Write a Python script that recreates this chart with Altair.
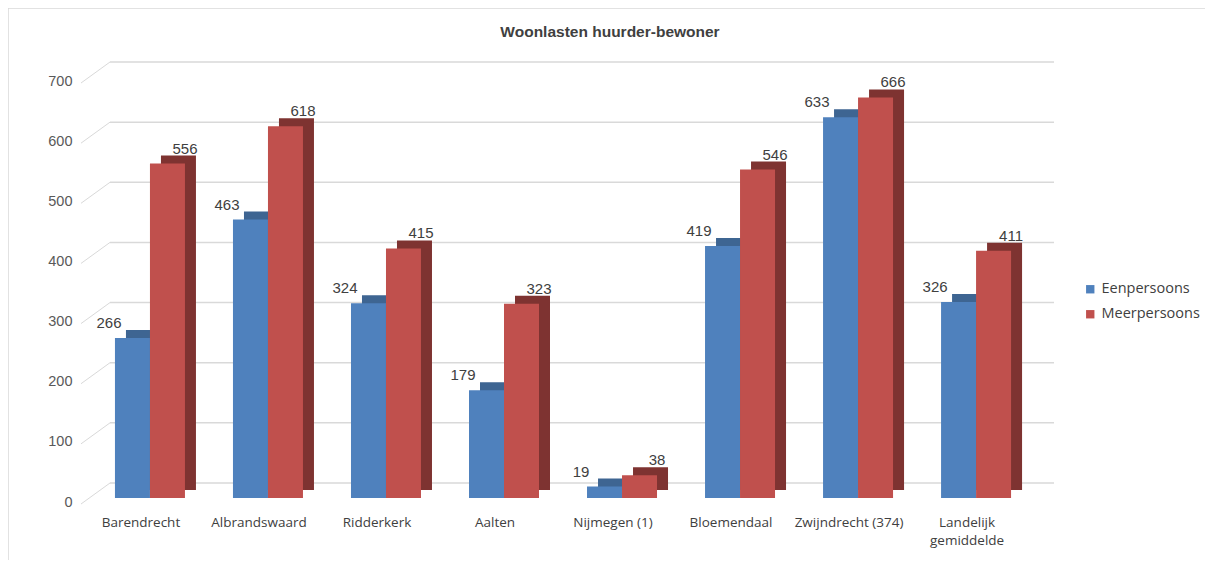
import altair as alt
import pandas as pd

categories = ["Barendrecht", "Albrandswaard", "Ridderkerk", "Aalten", "Nijmegen (1)",
              "Bloemendaal", "Zwijndrecht (374)", "Landelijk gemiddelde"]
eenpersoons = [266, 463, 324, 179, 19, 419, 633, 326]
meerpersoons = [556, 618, 415, 323, 38, 546, 666, 411]
series = ["Eenpersoons", "Meerpersoons"]
y_ticks = [0, 100, 200, 300, 400, 500, 600, 700]
title_text = "Woonlasten huurder-bewoner"

rows = []
for c, e, m in zip(categories, eenpersoons, meerpersoons):
    rows.append({"gemeente": c, "type": "Eenpersoons", "waarde": e})
    rows.append({"gemeente": c, "type": "Meerpersoons", "waarde": m})
df = pd.DataFrame(rows)
tick_df = pd.DataFrame({"tick": y_ticks})
one = pd.DataFrame({"k": [0]})

W, H = 944, 421
front = ["#4f81bd", "#c0504d"]
shade = ["#3e6592", "#7e3331"]

x_axis = alt.Axis(title=None, labelAngle=0, domain=False, ticks=False, grid=False,
                  labelPadding=17, labelOffset=-9, labelFont="Open Sans", labelFontSize=13.5,
                  labelColor="#404040", labelLineHeight=18, labelOverlap=False,
                  labelExpr="datum.value == 'Landelijk gemiddelde' ? ['Landelijk', 'gemiddelde'] : datum.label")
x_scale = alt.Scale(domain=categories, paddingInner=0.407, paddingOuter=0.203)
y_axis = alt.Axis(title=None, domain=False, ticks=False, grid=False, values=y_ticks,
                  labelPadding=19, labelOffset=4, labelFont="Liberation Sans", labelFontSize=14.5,
                  labelColor="#595959")
y_scale = alt.Scale(domain=[0, 700], nice=False, zero=True)

def X():
    return alt.X("gemeente:N", sort=categories, scale=x_scale, axis=x_axis)

# back wall grid lines
grid = alt.Chart(tick_df).mark_rule(color="#d9d9d9", strokeWidth=1.5, yOffset=-15).encode(
    x=alt.value(19), x2=alt.value(963),
    y=alt.Y("tick:Q", scale=y_scale, axis=y_axis),
)
# diagonal connectors from labels to back wall
diag = alt.Chart(tick_df).mark_rule(color="#d9d9d9", strokeWidth=1, yOffset=6, y2Offset=-15).encode(
    x=alt.value(-10), x2=alt.value(19),
    y=alt.Y("tick:Q", scale=y_scale, axis=y_axis),
    y2="tick:Q",
)

shadow = alt.Chart(df).mark_bar(yOffset=-8, y2Offset=-8).encode(
    x=X(),
    xOffset=alt.XOffset("type:N", sort=series,
                        scale=alt.Scale(domain=series, range=[11, 81], paddingInner=0, paddingOuter=0)),
    y=alt.Y("waarde:Q", scale=y_scale, axis=y_axis),
    color=alt.Color("type:N", scale=alt.Scale(domain=series, range=shade), legend=None),
)

bars = alt.Chart(df).mark_bar().encode(
    x=X(),
    xOffset=alt.XOffset("type:N", sort=series,
                        scale=alt.Scale(domain=series, range=[0, 70], paddingInner=0, paddingOuter=0)),
    y=alt.Y("waarde:Q", scale=y_scale, axis=y_axis),
    color=alt.Color("type:N", scale=alt.Scale(domain=series, range=front),
                    legend=alt.Legend(title=None, orient="none", legendX=992, legendY=205,
                                      symbolType="square", symbolSize=70, symbolStrokeWidth=0,
                                      labelFont="Open Sans", labelFontSize=14.5, labelColor="#404040",
                                      rowPadding=10, labelOffset=4)),
)

lab_een = alt.Chart(df[df["type"] == "Eenpersoons"]).mark_text(
    font="Liberation Sans", fontSize=15, color="#404040", dy=-10, dx=-6, baseline="alphabetic"
).encode(
    x=X(),
    xOffset=alt.XOffset("type:N", sort=series,
                        scale=alt.Scale(domain=series, range=[0, 70], paddingInner=0, paddingOuter=0)),
    y=alt.Y("waarde:Q", scale=y_scale, axis=y_axis),
    text="waarde:Q",
)
lab_meer = alt.Chart(df[df["type"] == "Meerpersoons"]).mark_text(
    font="Liberation Sans", fontSize=15, color="#404040", dy=-10, dx=0, baseline="alphabetic"
).encode(
    x=X(),
    xOffset=alt.XOffset("type:N", sort=series,
                        scale=alt.Scale(domain=series, range=[0, 70], paddingInner=0, paddingOuter=0)),
    y=alt.Y("waarde:Q", scale=y_scale, axis=y_axis),
    text="waarde:Q",
)

title = alt.Chart(one).mark_text(font="Liberation Sans", fontSize=15.5, fontWeight="bold",
                                 color="#404040", baseline="middle", align="center").encode(
    x=alt.value(519), y=alt.value(-45), text=alt.value(title_text)
)
border_top = alt.Chart(one).mark_rule(color="#d9d9d9", strokeWidth=1.5).encode(
    x=alt.value(-83), x2=alt.value(1114), y=alt.value(-69)
)
border_left = alt.Chart(one).mark_rule(color="#d9d9d9", strokeWidth=1.5).encode(
    x=alt.value(-83), y=alt.value(-69), y2=alt.value(490)
)

chart = alt.layer(
    border_top, border_left, grid, diag, shadow, bars, lab_een, lab_meer, title
).resolve_scale(color="independent", xOffset="independent").properties(
    width=W, height=H,
    background="white",
    autosize=alt.AutoSizeParams(type="none"),
    padding={"left": 83, "top": 69, "right": 170, "bottom": 62},
).configure_view(stroke=None)

chart.save("out.html", embed_options={"renderer": "svg", "actions": False})
